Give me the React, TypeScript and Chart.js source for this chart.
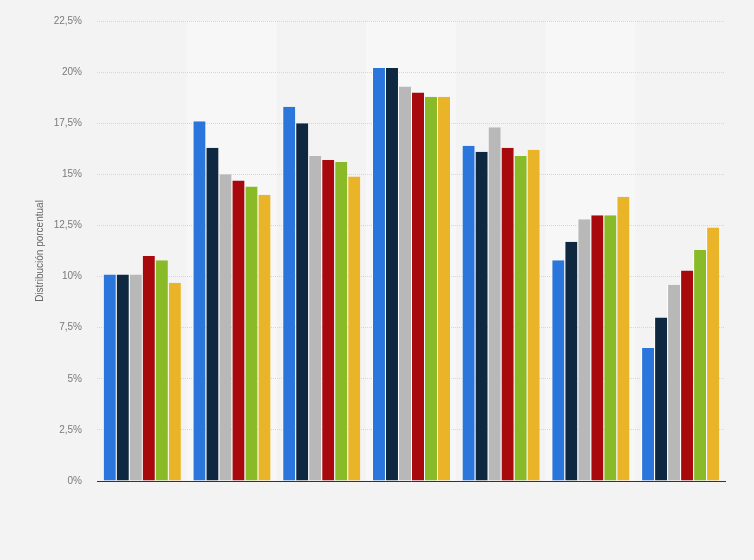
import React, { useEffect, useRef } from 'react';
import { Chart, registerables } from 'chart.js';

Chart.register(...registerables);

const categories = ['1', '2', '3', '4', '5', '6', '7'];
const seriesNames = ['Serie 1', 'Serie 2', 'Serie 3', 'Serie 4', 'Serie 5', 'Serie 6'];
const serie1 = [10.1, 17.6, 18.3, 20.2, 16.4, 10.8, 6.5];
const serie2 = [10.1, 16.3, 17.5, 20.2, 16.1, 11.7, 8.0];
const serie3 = [10.1, 15.0, 15.9, 19.3, 17.3, 12.8, 9.6];
const serie4 = [11.0, 14.7, 15.7, 19.0, 16.3, 13.0, 10.3];
const serie5 = [10.8, 14.4, 15.6, 18.8, 15.9, 13.0, 11.3];
const serie6 = [9.7, 14.0, 14.9, 18.8, 16.2, 13.9, 12.4];
const colors = ['#2a76dc', '#0d2840', '#b8b8b8', '#a8090d', '#89ba27', '#e9b428'];

// lighter background behind every other category, drawn before the grid
const bandPlugin = {
    id: 'bands',
    beforeDraw(chart: any) {
        const { ctx, chartArea, scales } = chart;
        const x = scales.x;
        const step = (chartArea.right - chartArea.left) / categories.length;
        ctx.save();
        ctx.fillStyle = '#f7f7f7';
        categories.forEach((_, i) => {
            if (i % 2 === 1) {
                const cx = x.getPixelForValue(i);
                ctx.fillRect(cx - step / 2, chartArea.top, step, chartArea.bottom - chartArea.top);
            }
        });
        ctx.restore();
    }
};

const App = () => {
    const chartRef = useRef<HTMLCanvasElement | null>(null);

    useEffect(() => {
        const canvas = chartRef.current;
        if (!canvas) return;
        const all = [serie1, serie2, serie3, serie4, serie5, serie6];
        const myChart = new Chart(canvas, {
            type: 'bar',
            data: {
                labels: categories,
                datasets: all.map((d, i) => ({
                    label: seriesNames[i],
                    data: d,
                    backgroundColor: colors[i],
                    borderColor: 'rgba(255,255,255,0.9)',
                    borderWidth: { left: 1, right: 0, top: 0, bottom: 0 },
                    categoryPercentage: 0.87,
                    barPercentage: 1,
                }))
            },
            options: {
                animation: false,
                responsive: false,
                maintainAspectRatio: false,
                layout: { padding: { top: 20, right: 29, bottom: 79, left: 0 } },
                plugins: {
                    legend: { display: false },
                    tooltip: { enabled: false },
                },
                scales: {
                    x: {
                        grid: { display: false },
                        ticks: { display: false },
                        border: { display: true, color: '#333333', width: 1 },
                        afterFit: (s: any) => { s.height = 0; },
                    },
                    y: {
                        min: 0,
                        max: 22.5,
                        ticks: {
                            stepSize: 2.5,
                            padding: 15,
                            color: '#7a7a7a',
                            font: { family: 'Arial, "Liberation Sans", sans-serif', size: 10 },
                            callback: (v: any) => String(v).replace('.', ',') + '%',
                        },
                        grid: { color: '#d6d6d6', drawTicks: false, lineWidth: 1 },
                        border: { display: false, dash: [1, 1] },
                        title: {
                            display: true,
                            text: 'Distribución porcentual',
                            color: '#666666',
                            font: { family: 'Arial, "Liberation Sans", sans-serif', size: 10 },
                            padding: { top: 34, bottom: 0 },
                        },
                        afterFit: (s: any) => { s.width = 97; },
                    }
                }
            },
            plugins: [bandPlugin]
        });
        return () => {
            myChart.destroy();
        };
    }, []);

    return (
        <div style={{ position: 'fixed', top: 0, left: 0, width: 754, height: 560, background: '#f3f3f3' }}>
            <canvas ref={chartRef} width="754" height="560" style={{ width: 754, height: 560 }}></canvas>
        </div>
    );
};

export default App;
